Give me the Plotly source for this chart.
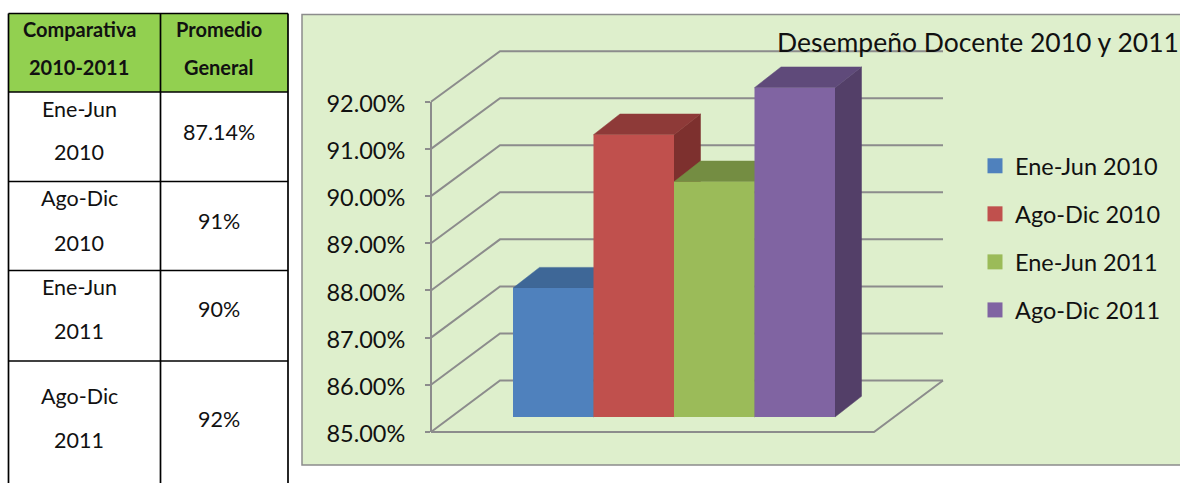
import plotly.graph_objects as go

W, H = 1180, 483

# ---------- data ----------
series_names = ["Ene-Jun 2010", "Ago-Dic 2010", "Ene-Jun 2011", "Ago-Dic 2011"]
series_values = [87.74, 91.0, 90.0, 92.0]
tick_values = [85, 86, 87, 88, 89, 90, 91, 92]
tick_labels = ["85.00%", "86.00%", "87.00%", "88.00%", "89.00%", "90.00%", "91.00%", "92.00%"]
front_colors = ["#4F81BD", "#C0504D", "#9BBB59", "#8064A2"]
top_colors = ["#3E6797", "#8E3A38", "#748D42", "#5F4A7A"]
side_colors = ["#355779", "#7D302E", "#667C3A", "#533F68"]

table_header = [["Comparativa", "2010-2011"], ["Promedio", "General"]]
table_periods = [["Ene-Jun", "2010"], ["Ago-Dic", "2010"], ["Ene-Jun", "2011"], ["Ago-Dic", "2011"]]
table_averages = ["87.14%", "91%", "90%", "92%"]

chart_title = "Desempeño Docente 2010 y 2011"

# ---------- geometry of the fake 3-D box (pixels) ----------
FONT = "Lato"
GRID = "#8C8C8C"
BAR_L, BAR_W = 513.0, 80.5      # left edge of first bar, width of a bar
BAR_BASE, UNIT = 417.0, 47.05   # pixel row of 85 on the bar plane, pixels per unit
DEPTH_X, DEPTH_Y = 26.5, 20.7   # depth of each bar
AX_X, AX_BOTTOM, AX_TOP = 431.0, 432.0, 101.7
BACK_X, BACK_BOTTOM, BACK_RIGHT = 500.0, 380.5, 943.0
FLOOR_RIGHT = 874.0


def px_x(p):
    return (p - BAR_L) / BAR_W - 0.5


def px_y(p):
    return 85 + (BAR_BASE - p) / UNIT


fig = go.Figure()

# oblique + back gridlines
front_unit = (AX_BOTTOM - AX_TOP) / 7
for v in tick_values:
    k = v - 85
    fig.add_trace(go.Scatter(
        x=[px_x(AX_X), px_x(BACK_X), px_x(BACK_RIGHT)],
        y=[px_y(AX_BOTTOM - k * front_unit), px_y(BACK_BOTTOM - k * UNIT), px_y(BACK_BOTTOM - k * UNIT)],
        mode="lines", line=dict(color=GRID, width=2), showlegend=False, hoverinfo="skip"))

# floor edges
fig.add_trace(go.Scatter(
    x=[px_x(AX_X), px_x(FLOOR_RIGHT), px_x(BACK_RIGHT)],
    y=[px_y(AX_BOTTOM), px_y(AX_BOTTOM), px_y(BACK_BOTTOM)],
    mode="lines", line=dict(color=GRID, width=2), showlegend=False, hoverinfo="skip"))

# side and top faces, painted left to right underneath the front faces
dx = DEPTH_X / BAR_W
dy = DEPTH_Y / UNIT
for i, v in enumerate(series_values):
    r = i + 0.5
    fig.add_trace(go.Scatter(
        x=[r, r + dx, r + dx, r, r], y=[85, 85 + dy, v + dy, v, 85],
        mode="lines", fill="toself", fillcolor=side_colors[i], line=dict(color=side_colors[i], width=0.5),
        showlegend=False, hoverinfo="skip"))
    fig.add_trace(go.Scatter(
        x=[r - 1, r - 1 + dx, r + dx, r, r - 1], y=[v, v + dy, v + dy, v, v],
        mode="lines", fill="toself", fillcolor=top_colors[i], line=dict(color=top_colors[i], width=0.5),
        showlegend=False, hoverinfo="skip"))

# front faces
for i, (name, v) in enumerate(zip(series_names, series_values)):
    fig.add_trace(go.Bar(
        x=[i], y=[v - 85], base=85, width=1, name=name, yaxis="y3",
        marker=dict(color=front_colors[i], line=dict(width=0)),
        legendgroup=name, showlegend=False, hovertemplate=name + ": %{y:.2f}%<extra></extra>"))

# legend entries
for i, name in enumerate(series_names):
    fig.add_trace(go.Scatter(
        x=[None], y=[None], name=name, mode="markers", legendgroup=name,
        marker=dict(symbol="square", size=15, color=front_colors[i], line=dict(width=0))))

# value axis trace
fig.add_trace(go.Scatter(x=[None, None], y=[85, 92], yaxis="y2", mode="lines", showlegend=False, hoverinfo="skip"))

y_range = [px_y(H), px_y(0)]
x_range = [px_x(0), px_x(W)]


def fx(p):
    return p / W


def fy(p):
    return 1 - p / H


shapes = []
annotations = []

# chart panel
shapes.append(dict(type="rect", xref="paper", yref="paper", layer="below",
                   x0=fx(302), x1=fx(W + 10), y0=fy(465), y1=fy(14.5),
                   fillcolor="#DEEFCC", line=dict(color="#8C8C8C", width=1.5)))

# table
T_L, T_M, T_R = 8.5, 160.5, 288.0
T_ROWS = [13.5, 92.0, 181.5, 270.5, 361.0, H + 5]
shapes.append(dict(type="rect", xref="paper", yref="paper", layer="below",
                   x0=fx(T_L), x1=fx(T_R), y0=fy(T_ROWS[1]), y1=fy(T_ROWS[0]),
                   fillcolor="#92D050", line=dict(width=0)))
for r in T_ROWS[:-1]:
    shapes.append(dict(type="line", xref="paper", yref="paper", layer="below",
                       x0=fx(T_L), x1=fx(T_R), y0=fy(r), y1=fy(r), line=dict(color="black", width=1.7)))
for c in (T_L, T_M, T_R):
    shapes.append(dict(type="line", xref="paper", yref="paper", layer="below",
                       x0=fx(c), x1=fx(c), y0=fy(T_ROWS[0]), y1=fy(T_ROWS[-1]), line=dict(color="black", width=1.7)))


def cell(text, cx, cy, size=21.5, bold=False):
    annotations.append(dict(
        text=f"<b>{text}</b>" if bold else text, xref="paper", yref="paper",
        x=fx(cx), y=fy(cy), xanchor="center", yanchor="middle", showarrow=False,
        font=dict(family=FONT, size=size, color="#111111")))


for col, (lines, cx) in enumerate(zip(table_header, (79, 219))):
    cell(lines[0], cx, 29, 20, True)
    cell(lines[1], cx, 67, 20, True)

period_rows = [(109, 152), (198, 243), (287, 331), (396, 440)]
average_rows = [132, 221, 309, 419]
for lines, (y1, y2), avg, y3 in zip(table_periods, period_rows, table_averages, average_rows):
    cell(lines[0], 79, y1)
    cell(lines[1], 79, y2)
    cell(avg, 219, y3)

fig.update_layout(
    width=W, height=H, margin=dict(l=0, r=0, t=0, b=0, autoexpand=False),
    paper_bgcolor="white", plot_bgcolor="rgba(0,0,0,0)",
    font=dict(family=FONT, color="#111111"),
    barmode="overlay",
    title=dict(text=chart_title, x=978 / W, xanchor="center", xref="paper",
               y=1 - 43 / H, yanchor="middle", yref="paper",
               font=dict(family=FONT, size=26.5, color="#111111")),
    xaxis=dict(range=x_range, visible=False, domain=[0, 1], fixedrange=True, automargin=False),
    yaxis=dict(range=y_range, visible=False, domain=[0, 1], fixedrange=True, automargin=False),
    yaxis3=dict(range=y_range, visible=False, overlaying="y", fixedrange=True, automargin=False),
    yaxis2=dict(range=[85, 92], domain=[1 - AX_BOTTOM / H, 1 - AX_TOP / H],
                anchor="free", position=AX_X / W, side="left", automargin=False,
                tickmode="array", tickvals=tick_values, ticktext=tick_labels,
                showgrid=False, zeroline=False, showline=True, linecolor=GRID, linewidth=2,
                ticks="outside", ticklen=5, tickwidth=2, tickcolor=GRID,
                ticklabelstandoff=15, ticklabelshift=2,
                tickfont=dict(family=FONT, size=23.5, color="#111111"),
                fixedrange=True),
    legend=dict(x=975 / W, xanchor="left", y=1 - 144 / H, yanchor="top",
                bgcolor="rgba(0,0,0,0)", borderwidth=0, tracegroupgap=14.5,
                itemsizing="trace", font=dict(family=FONT, size=23.5, color="#111111")),
    shapes=shapes, annotations=annotations,
)

fig.write_html("out.html", config={"displayModeBar": False},
               post_script="document.documentElement.style.overflow='hidden';document.body.style.margin='0';")
